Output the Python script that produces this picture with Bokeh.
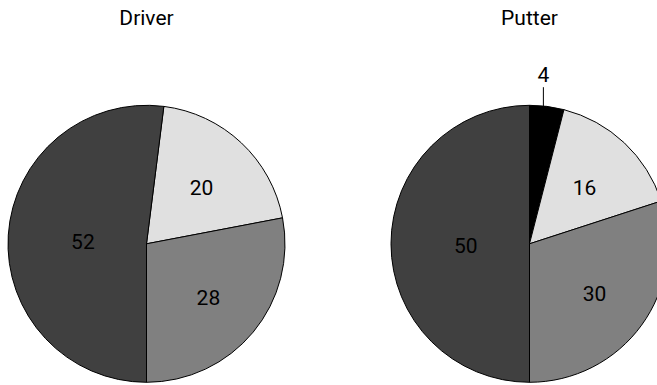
import math
from bokeh.plotting import figure
from bokeh.models import Range1d, ColumnDataSource
from bokeh.core.properties import value
from bokeh.embed import file_html
from bokeh.resources import INLINE

# ---- data ----
titles = ["Driver", "Putter"]
slice_names = ["Black", "Light", "Medium", "Dark"]
driver_values = [0, 20, 28, 52]
putter_values = [4, 16, 30, 50]
slice_colors = ["#000000", "#e0e0e0", "#808080", "#404040"]

# ---- layout (picture-pixel data coordinates, y up) ----
W, H = 657, 385
FONT = "Roboto"
FONT_SIZE = "21px"
centers_x = [146, 529]
center_y = H - 243.3
R = 138.5
start_offsets = [7.2, 0.0]   # degrees clockwise from 12 o'clock
title_y = H - 17
TEXT_DY = -2                 # small downward nudge for labels

p = figure(width=W, height=H, output_backend="svg", toolbar_location=None,
           x_range=Range1d(0, W), y_range=Range1d(0, H),
           min_border=0)
p.axis.visible = False
p.grid.visible = False
p.outline_line_color = None
p.background_fill_color = "white"
p.border_fill_color = "white"

wx, wy, ws, we, wc = [], [], [], [], []
lx, ly, lt = [], [], []
outside = []

for cx, vals, off in zip(centers_x, [driver_values, putter_values], start_offsets):
    total = float(sum(vals))
    theta = off
    for v, col in zip(vals, slice_colors):
        if v <= 0:
            continue
        sweep = 360.0 * v / total
        t0, t1 = theta, theta + sweep
        wx.append(cx); wy.append(center_y)
        ws.append(math.radians(90 - t0)); we.append(math.radians(90 - t1))
        wc.append(col)
        mid = math.radians((t0 + t1) / 2)
        if sweep < 25:
            outside.append((cx, mid, str(v)))
        else:
            frac = 0.58 if sweep < 180 else 0.46
            lx.append(cx + R * frac * math.sin(mid))
            ly.append(center_y + R * frac * math.cos(mid) + TEXT_DY)
            lt.append(str(v))
        theta = t1

p.wedge(x="x", y="y", radius=R, start_angle="s", end_angle="e", direction="clock",
        fill_color="c", line_color="black", line_width=1,
        source=ColumnDataSource(dict(x=wx, y=wy, s=ws, e=we, c=wc)))

p.text(x=lx, y=ly, text=lt, text_align="center", text_baseline="middle",
       text_font=value(FONT), text_font_size=FONT_SIZE, text_color="black")

for cx, mid, t in outside:
    xl = cx + R * 0.8 * math.sin(mid)
    y_edge = center_y + math.sqrt(R**2 - (xl - cx) ** 2)
    p.segment(x0=[xl], y0=[y_edge], x1=[xl], y1=[H - 86.7], line_color="black", line_width=1)
    p.text(x=[xl], y=[H - 72 + TEXT_DY], text=[t], text_align="center", text_baseline="middle",
           text_font=value(FONT), text_font_size=FONT_SIZE, text_color="black")

p.text(x=centers_x, y=[title_y] * 2, text=titles, text_align="center", text_baseline="middle",
       text_font=value(FONT), text_font_size=FONT_SIZE, text_color="black")

open("out.html", "w").write(file_html(p, INLINE))
